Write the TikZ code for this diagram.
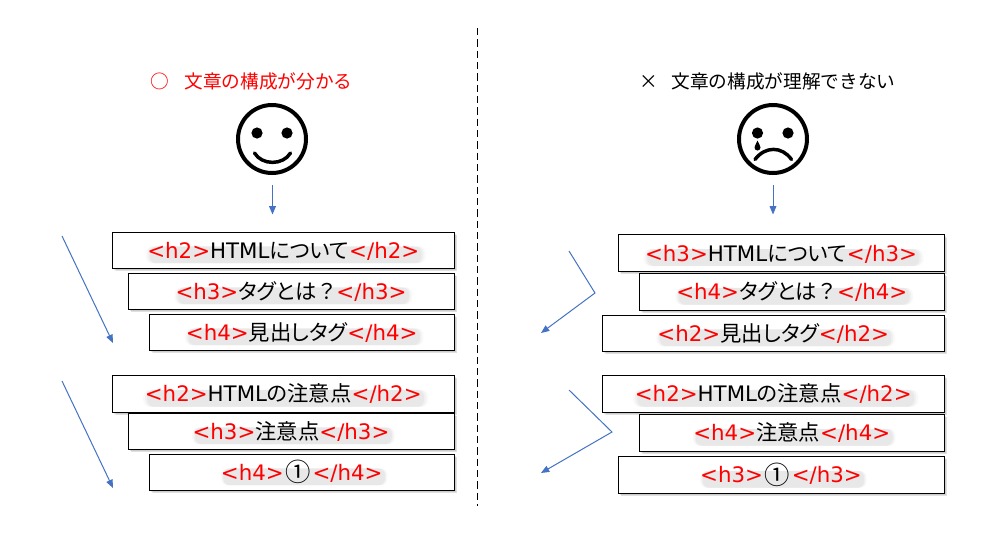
\documentclass[tikz,border=0pt]{standalone}
\usepackage{fontspec}
\setmainfont{Noto Sans CJK JP}
\newfontfamily\boxjp[RawFeature=+palt]{Noto Sans CJK JP}
\newfontfamily\boxlat{DejaVu Sans}
\usetikzlibrary{arrows.meta,shadows}
\definecolor{arrowblue}{HTML}{4472C4}
\tikzset{
  x=0.75pt,y=-0.75pt,
  softshadow/.style={
    general shadow={shadow xshift=2.6pt,shadow yshift=-2.6pt,fill=black,fill opacity=.05,draw=none},
    general shadow={shadow xshift=2pt,shadow yshift=-2pt,fill=black,fill opacity=.07,draw=none},
    general shadow={shadow xshift=1.3pt,shadow yshift=-1.3pt,fill=black,fill opacity=.09,draw=none}},
  hbox/.style={draw=black,line width=0.75pt,fill=white,softshadow,inner sep=0pt},
  hazy/.style={rounded corners=5pt,
    general shadow={shadow xshift=1.8pt,shadow yshift=-2pt,shadow scale=1.03,fill=black,fill opacity=.025,draw=none},
    general shadow={shadow xshift=1.8pt,shadow yshift=-2pt,shadow scale=1.015,fill=black,fill opacity=.03,draw=none},
    general shadow={shadow xshift=1.8pt,shadow yshift=-2pt,fill=black,fill opacity=.035,draw=none}},
  htext/.style={hazy,inner sep=0pt,text height=11pt,text depth=1.5pt,font=\fontsize{16}{18}\boxjp},
  flow/.style={draw=arrowblue,line width=0.75pt},
  tip/.style={-{Triangle[length=6.2pt,width=5pt]}},
  title/.style={anchor=west,inner sep=0pt,font=\fontsize{14}{16}\selectfont},
  face/.style={draw=black,line width=3pt,fill=none},
  mouth/.style={draw=black,line width=2.6pt,line cap=round},
  feat/.style={fill=black,draw=none}
}
\newcommand{\hb}[7]{%
  \node[hbox,minimum width={(#4-#2)*0.75pt},minimum height={(#5-#3)*0.75pt}] (#1) at ({(#2+#4)/2},{(#3+#5)/2}) {};
  \node[htext] (#1t) at ([yshift=-1.6pt]#1.center) {\textcolor{red}{\boxlat <#6>}#7\textcolor{red}{\boxlat </#6>}};
}
\newcommand{\qmk}{\hspace{0.12em}？\hspace{0.1em}}
\newcommand{\bigone}{\hspace{0.08em}\raisebox{-0.06em}{\fontsize{19}{20}\selectfont ①}\hspace{0.08em}}
\begin{document}
\begin{tikzpicture}
\useasboundingbox (0,0) rectangle (1003,536);
\fill[white] (0,0) rectangle (1003,536);

% divider
\coordinate (dtop) at (477.5,28);
\coordinate (dbot) at (477.5,506);
\draw[black,line width=0.75pt,dash pattern=on 5.5pt off 3pt] (dtop) -- (dbot);

% titles
\node[title,text=red] (ltitle) at (150.5,81) {○\hspace{0.8em}文章の構成が分かる};
\node[title,text=black] (rtitle) at (639,81) {×\hspace{0.72em}文章の構成が理解できない};

% happy face
\node[face,circle,minimum size=51pt,inner sep=0pt] (lface) at (272,139) {};
\fill[feat] (257,133) circle (4.2pt);
\fill[feat] (287,133) circle (4.2pt);
\draw[mouth] (254.5,153) .. controls (262,165.5) and (283,165.5) .. (290.5,153);

% sad face
\node[face,circle,minimum size=51pt,inner sep=0pt] (rface) at (773,139) {};
\fill[feat] (757.5,133) circle (4.2pt);
\fill[feat] (788,133) circle (4.2pt);
\fill[feat] (757.5,140.5) .. controls (756.5,144) and (754.5,145) .. (754.5,147.5) arc[start angle=180,end angle=360,radius=2.25pt] .. controls (760.5,145) and (758.5,144) .. cycle;
\draw[mouth] (755,159.5) .. controls (765,146) and (782,146) .. (791.5,159.5);

% downward arrows
\coordinate (la0) at (272.5,185);
\coordinate (la1) at (272.5,214.5);
\draw[flow,tip] (la0) -- (la1);
\coordinate (ra0) at (773,185);
\coordinate (ra1) at (773,214.5);
\draw[flow,tip] (ra0) -- (ra1);

% left boxes
\hb{la}{112.5}{232}{454}{268}{h2}{{\boxlat HTML}について}
\hb{lb}{128}{273}{454}{309}{h3}{タグとは\qmk}
\hb{lc}{149.5}{314}{454}{350}{h4}{見出しタグ}
\hb{ld}{112.5}{375}{454}{412}{h2}{{\boxlat HTML}の注意点}
\hb{le}{128}{413}{454}{449}{h3}{注意点}
\hb{lf}{149.5}{454}{454}{490}{h4}{\bigone}

% right boxes
\hb{ra}{618}{234.5}{944}{271}{h3}{{\boxlat HTML}について}
\hb{rb}{639.5}{273}{944}{310}{h4}{タグとは\qmk}
\hb{rc}{602.5}{315}{944}{351}{h2}{見出しタグ}
\hb{rd}{602.5}{375}{944}{412}{h2}{{\boxlat HTML}の注意点}
\hb{re}{639.5}{414}{944}{451}{h4}{注意点}
\hb{rf}{618}{456}{944}{493}{h3}{\bigone}

% reading-order arrows
\coordinate (p1) at (62,236);  \coordinate (p2) at (113,343);
\draw[flow,tip] (p1) -- (p2);
\coordinate (q1) at (62,381);  \coordinate (q2) at (113,488);
\draw[flow,tip] (q1) -- (q2);
\coordinate (r1) at (569,251); \coordinate (r2) at (595,293); \coordinate (r3) at (541,333);
\draw[flow,tip] (r1) -- (r2) -- (r3);
\coordinate (s1) at (569,390); \coordinate (s2) at (612,432); \coordinate (s3) at (541,473);
\draw[flow,tip] (s1) -- (s2) -- (s3);
\end{tikzpicture}
\end{document}
